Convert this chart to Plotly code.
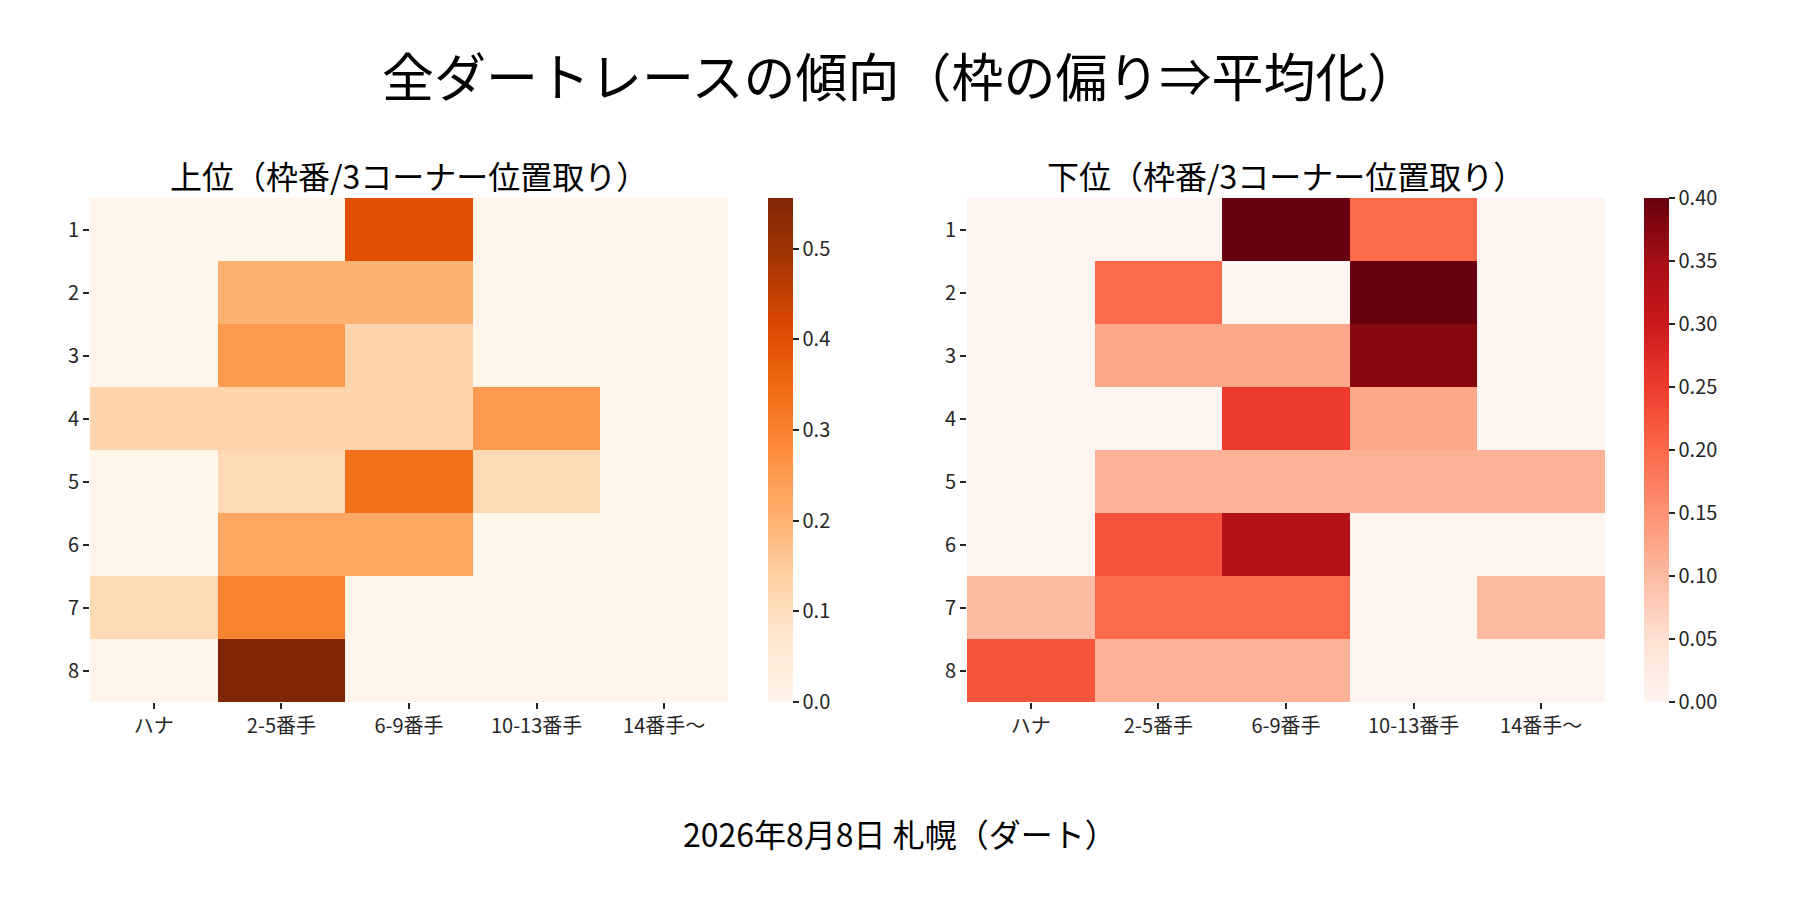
import plotly.graph_objects as go

# Data
frames = ["1", "2", "3", "4", "5", "6", "7", "8"]
positions = ["ハナ", "2-5番手", "6-9番手", "10-13番手", "14番手～"]

# 上位 (rows = 枠番 1-8, cols = positions)
upper = [
    [0.0, 0.0, 0.4, 0.0, 0.0],
    [0.0, 0.2, 0.2, 0.0, 0.0],
    [0.0, 0.25, 0.125, 0.0, 0.0],
    [0.125, 0.125, 0.125, 0.25, 0.0],
    [0.0, 0.111, 0.333, 0.111, 0.0],
    [0.0, 0.222, 0.222, 0.0, 0.0],
    [0.111, 0.3, 0.0, 0.0, 0.0],
    [0.0, 0.556, 0.0, 0.0, 0.0],
]

# 下位
lower = [
    [0.0, 0.0, 0.4, 0.2, 0.0],
    [0.0, 0.2, 0.0, 0.4, 0.0],
    [0.0, 0.125, 0.125, 0.375, 0.0],
    [0.0, 0.0, 0.25, 0.125, 0.0],
    [0.0, 0.111, 0.111, 0.111, 0.111],
    [0.0, 0.222, 0.333, 0.0, 0.0],
    [0.1, 0.2, 0.2, 0.0, 0.1],
    [0.222, 0.111, 0.111, 0.0, 0.0],
]

upper_ticks = [0.0, 0.1, 0.2, 0.3, 0.4, 0.5]
lower_ticks = [0.0, 0.05, 0.10, 0.15, 0.20, 0.25, 0.30, 0.35, 0.40]

FONT = "Noto Sans CJK JP"
INK = "#262626"
W, H = 1800, 900
OFF = 8  # page body margin


# pixel -> paper helpers
def px(x):
    return (x - OFF) / W


def py(y):
    return 1 - (y - OFF) / H


Y0, Y1 = py(702), py(198)


def colorbar(x, ticks, fmt):
    return dict(
        x=px(x), xanchor="left", xpad=0,
        y=Y0, yanchor="bottom", ypad=0,
        len=Y1 - Y0, lenmode="fraction",
        thickness=25, outlinewidth=0,
        ticks="outside", ticklen=6, tickwidth=1.5, tickcolor=INK,
        tickvals=ticks, tickformat=fmt,
        tickfont=dict(family=FONT, size=20, color=INK),
    )


fig = go.Figure()

fig.add_trace(go.Heatmap(
    z=upper, x=positions, y=frames,
    colorscale="Oranges", zmin=0, zmax=max(max(r) for r in upper),
    colorbar=colorbar(768, upper_ticks, ".1f"),
    xaxis="x", yaxis="y",
))

fig.add_trace(go.Heatmap(
    z=lower, x=positions, y=frames,
    colorscale="Reds", zmin=0, zmax=max(max(r) for r in lower),
    colorbar=colorbar(1644, lower_ticks, ".2f"),
    xaxis="x2", yaxis="y2",
))

axis_common = dict(
    showgrid=False, zeroline=False, showline=False,
    ticks="outside", ticklen=6, tickwidth=1.5, tickcolor=INK,
    tickfont=dict(family=FONT, size=20, color=INK),
)


def label(text, x, y, size):
    return dict(text=text, x=px(x), y=py(y), xref="paper", yref="paper",
                xanchor="center", yanchor="middle", showarrow=False,
                font=dict(family=FONT, size=size, color="black"))


fig.update_layout(
    width=W, height=H,
    margin=dict(l=0, r=0, t=0, b=0),
    paper_bgcolor="white", plot_bgcolor="white",
    font=dict(family=FONT, color="black"),
    xaxis=dict(domain=[px(90), px(728)], anchor="y", **axis_common),
    yaxis=dict(domain=[Y0, Y1], anchor="x", autorange="reversed", **axis_common),
    xaxis2=dict(domain=[px(967), px(1605)], anchor="y2", **axis_common),
    yaxis2=dict(domain=[Y0, Y1], anchor="x2", autorange="reversed", **axis_common),
    annotations=[
        label("全ダートレースの傾向（枠の偏り⇒平均化）", 900, 75, 52),
        label("上位（枠番/3コーナー位置取り）", 409, 175, 32),
        label("下位（枠番/3コーナー位置取り）", 1286, 175, 32),
        label("2026年8月8日 札幌（ダート）", 900, 833, 32),
    ],
)

fig.write_html("out.html")
